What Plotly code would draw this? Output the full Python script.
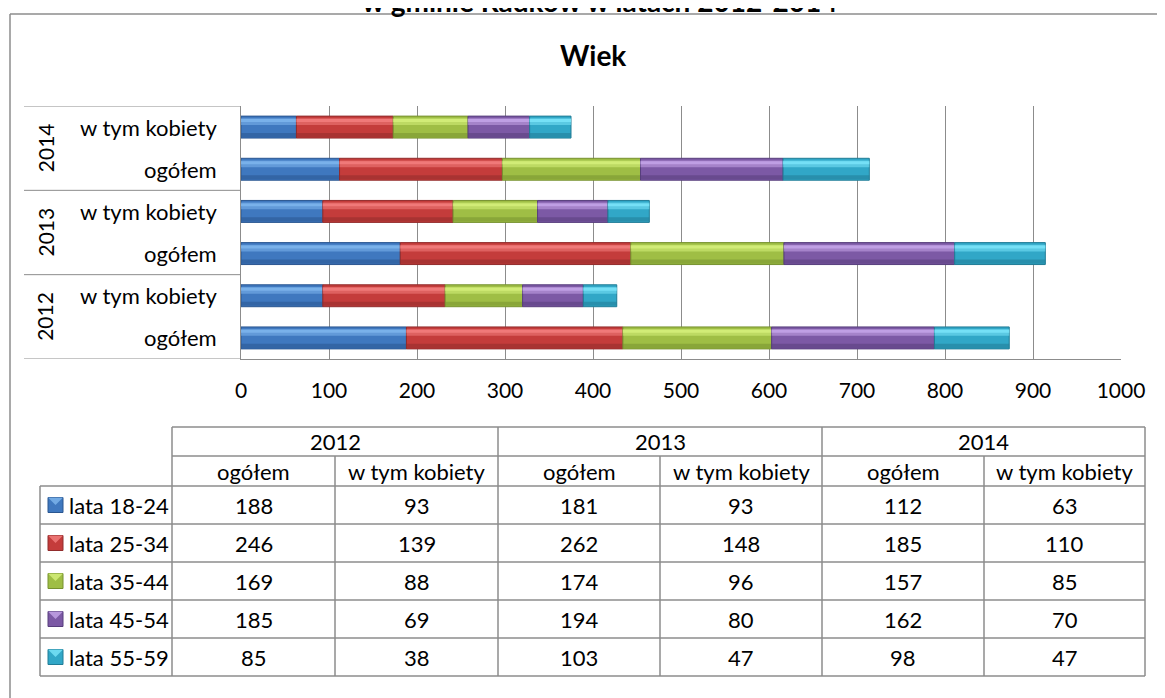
import plotly.graph_objects as go

W, H = 1165, 698
OFF = 8  # page body margin compensation

# ---------------- data ----------------
age_groups = ['lata 18-24', 'lata 25-34', 'lata 35-44', 'lata 45-54', 'lata 55-59']
years = ['2012', '2013', '2014']
sub_groups = ['ogółem', 'w tym kobiety']
# order: 2012 ogółem, 2012 kobiety, 2013 ogółem, 2013 kobiety, 2014 ogółem, 2014 kobiety
v_18_24 = [188, 93, 181, 93, 112, 63]
v_25_34 = [246, 139, 262, 148, 185, 110]
v_35_44 = [169, 88, 174, 96, 157, 85]
v_45_54 = [185, 69, 194, 80, 162, 70]
v_55_59 = [85, 38, 103, 47, 98, 47]
x_ticks = [0, 100, 200, 300, 400, 500, 600, 700, 800, 900, 1000]
chart_title = 'Wiek'
outer_title = 'w gminie Radków w latach 2012-2014'

series = [v_18_24, v_25_34, v_35_44, v_45_54, v_55_59]
# (highlight, mid, dark)
colors = [
    ('#80B6EE', '#3F78BF', '#2A5690'),
    ('#F47F7F', '#C43C3B', '#912C2C'),
    ('#D6F07C', '#9FBE45', '#76912F'),
    ('#C6A6EA', '#7C59A5', '#573E7C'),
    ('#7CE6FA', '#31A7C7', '#207C96'),
]

FONT = 'Lato'
GRID = '#8C8C8C'


def px(x):
    return (x - OFF) / W


def py(y):
    return 1 - (y - OFF) / H


# plot area in page pixels
PX0, PX1, PY0, PY1 = 241, 1121, 106, 359

ncat = len(v_18_24)
ypos = list(range(ncat))

fig = go.Figure()
cum = [0] * ncat
for s, (vals, (hi, mid, dk)) in enumerate(zip(series, colors)):
    base = cum[:]
    fig.add_trace(go.Bar(
        y=ypos, x=vals, base=base, orientation='h', width=0.52, offset=-0.26,
        marker=dict(color=mid, line=dict(color=dk, width=1)),
        name=age_groups[s], showlegend=False, hoverinfo='skip'))
    fig.add_trace(go.Bar(
        y=ypos, x=vals, base=base, orientation='h', width=0.1, offset=-0.24,
        marker=dict(color=dk, line=dict(width=0), opacity=0.55),
        showlegend=False, hoverinfo='skip'))
    fig.add_trace(go.Bar(
        y=ypos, x=vals, base=base, orientation='h', width=0.16, offset=0.05,
        marker=dict(color=hi, line=dict(width=0), opacity=0.55),
        showlegend=False, hoverinfo='skip'))
    fig.add_trace(go.Bar(
        y=ypos, x=vals, base=base, orientation='h', width=0.07, offset=0.12,
        marker=dict(color=hi, line=dict(width=0), opacity=0.8),
        showlegend=False, hoverinfo='skip'))
    cum = [c + v for c, v in zip(cum, vals)]

shapes = []
annotations = []

# outer frame
shapes.append(dict(type='line', xref='paper', yref='paper', x0=px(10), x1=px(1180), y0=py(14), y1=py(14),
                   line=dict(color=GRID, width=1.5)))
shapes.append(dict(type='line', xref='paper', yref='paper', x0=px(10), x1=px(10), y0=py(14), y1=py(710),
                   line=dict(color=GRID, width=1.5)))

# titles
annotations.append(dict(text=f'<b>{outer_title}</b>', xref='paper', yref='paper', x=px(600), y=py(1),
                        xanchor='center', yanchor='middle', showarrow=False,
                        font=dict(family=FONT, size=28, color='#000')))
annotations.append(dict(text=f'<b>{chart_title}</b>', xref='paper', yref='paper', x=px(593), y=py(55),
                        xanchor='center', yanchor='middle', showarrow=False,
                        font=dict(family=FONT, size=28, color='#000')))

# category labels (nested)
for i in range(ncat):
    annotations.append(dict(text=sub_groups[i % 2], xref='paper', yref='y', x=px(219), y=i,
                            xanchor='right', yanchor='middle', showarrow=False,
                            font=dict(family=FONT, size=22, color='#000')))
for j, yr in enumerate(years):
    annotations.append(dict(text=yr, xref='paper', yref='y', x=px(45), y=2 * j + 0.5,
                            xanchor='center', yanchor='middle', showarrow=False, textangle=-90,
                            font=dict(family=FONT, size=21, color='#000')))
for b in [-0.5, 1.5, 3.5, 5.5]:
    shapes.append(dict(type='line', xref='paper', yref='y', x0=px(24), x1=px(PX0), y0=b, y1=b,
                       line=dict(color=GRID, width=1)))

# ---------------- data table ----------------
col_edges = [172, 335, 498, 660, 822, 984, 1145]
row_edges = [427, 456, 486, 524, 562, 600, 638, 676]
LEFT = 40
TL = dict(color='#8C8C8C', width=1.5)

# horizontal lines
shapes.append(dict(type='line', xref='paper', yref='paper', x0=px(col_edges[0]), x1=px(col_edges[-1]),
                   y0=py(row_edges[0]), y1=py(row_edges[0]), line=TL))
shapes.append(dict(type='line', xref='paper', yref='paper', x0=px(col_edges[0]), x1=px(col_edges[-1]),
                   y0=py(row_edges[1]), y1=py(row_edges[1]), line=TL))
for r in row_edges[2:]:
    shapes.append(dict(type='line', xref='paper', yref='paper', x0=px(LEFT), x1=px(col_edges[-1]),
                       y0=py(r), y1=py(r), line=TL))
# vertical lines
shapes.append(dict(type='line', xref='paper', yref='paper', x0=px(LEFT), x1=px(LEFT),
                   y0=py(row_edges[2]), y1=py(row_edges[-1]), line=TL))
for k, c in enumerate(col_edges):
    top = row_edges[0] if k % 2 == 0 else row_edges[1]
    shapes.append(dict(type='line', xref='paper', yref='paper', x0=px(c), x1=px(c),
                       y0=py(top), y1=py(row_edges[-1]), line=TL))

TF = dict(family=FONT, size=22, color='#000')
for j, yr in enumerate(years):
    cx = (col_edges[2 * j] + col_edges[2 * j + 2]) / 2
    annotations.append(dict(text=yr, xref='paper', yref='paper', x=px(cx), y=py((row_edges[0] + row_edges[1]) / 2),
                            xanchor='center', yanchor='middle', showarrow=False, font=TF))
for k in range(6):
    cx = (col_edges[k] + col_edges[k + 1]) / 2
    annotations.append(dict(text=sub_groups[k % 2], xref='paper', yref='paper', x=px(cx),
                            y=py((row_edges[1] + row_edges[2]) / 2),
                            xanchor='center', yanchor='middle', showarrow=False, font=TF))
for s, vals in enumerate(series):
    cy = (row_edges[2 + s] + row_edges[3 + s]) / 2
    hi, mid, dk = colors[s]
    # legend key square
    shapes.append(dict(type='rect', xref='paper', yref='paper', x0=px(48), x1=px(63), y0=py(cy - 7.5), y1=py(cy + 7.5),
                       fillcolor=mid, line=dict(color=dk, width=1)))
    shapes.append(dict(type='path', xref='paper', yref='paper',
                       path=f'M {px(48)},{py(cy-7.5)} L {px(63)},{py(cy-7.5)} L {px(55.5)},{py(cy)} Z',
                       fillcolor=hi, line=dict(width=0), opacity=0.8))
    annotations.append(dict(text=age_groups[s], xref='paper', yref='paper', x=px(67), y=py(cy),
                            xanchor='left', yanchor='middle', showarrow=False, font=TF))
    for k in range(6):
        cx = (col_edges[k] + col_edges[k + 1]) / 2
        annotations.append(dict(text=str(vals[k]), xref='paper', yref='paper', x=px(cx), y=py(cy),
                                xanchor='center', yanchor='middle', showarrow=False, font=TF))

fig.update_layout(
    width=W, height=H,
    margin=dict(l=0, r=0, t=0, b=0, autoexpand=False),
    paper_bgcolor='white', plot_bgcolor='white',
    barmode='overlay',
    showlegend=False,
    shapes=shapes,
    annotations=annotations,
    xaxis=dict(domain=[px(PX0), px(PX1)], range=[0, 1000], tickvals=x_ticks, automargin=False,
               ticktext=[str(t) for t in x_ticks], showgrid=True, gridcolor=GRID, gridwidth=1,
               showline=True, linecolor=GRID, linewidth=1, zeroline=False,
               ticks='', ticklabelstandoff=13,
               tickfont=dict(family=FONT, size=21, color='#000'), fixedrange=True),
    yaxis=dict(domain=[py(PY1), py(PY0)], range=[-0.5, ncat - 0.5], showticklabels=False, automargin=False,
               showgrid=False, zeroline=False, showline=True, linecolor=GRID, linewidth=1,
               fixedrange=True),
)

fig.write_html('out.html', config={'displayModeBar': False})
